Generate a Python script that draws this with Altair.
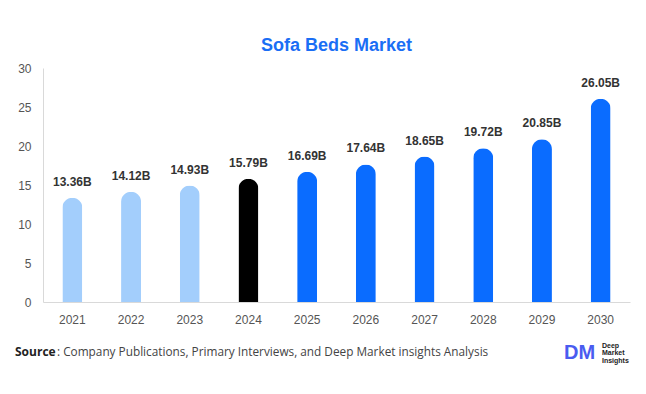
import altair as alt
import pandas as pd

years = ["2021", "2022", "2023", "2024", "2025", "2026", "2027", "2028", "2029", "2030"]
values = [13.36, 14.12, 14.93, 15.79, 16.69, 17.64, 18.65, 19.72, 20.85, 26.05]
kinds = ["past", "past", "past", "base", "fore", "fore", "fore", "fore", "fore", "fore"]
labels = [f"{v:.2f}B" for v in values]
y_ticks = [0, 5, 10, 15, 20, 25, 30]

df = pd.DataFrame({"year": years, "value": values, "kind": kinds, "label": labels})

W, H = 587, 234

x = alt.X("year:N", title=None, sort=years,
          scale=alt.Scale(paddingInner=0.66, paddingOuter=0.33),
          axis=alt.Axis(labelAngle=0, ticks=False, domainColor="#d9d9d9",
                        labelColor="#555555", labelFontSize=12, labelPadding=12,
                        labelFont="Arial"))
y = alt.Y("value:Q", title=None,
          scale=alt.Scale(domain=[0, 30]),
          axis=alt.Axis(values=y_ticks, grid=False, ticks=False,
                        labelOverlap=False,
                        domainColor="#d9d9d9", labelColor="#555555", labelFontSize=12,
                        labelPadding=12, labelFont="Arial"))

color = alt.Color("kind:N", legend=None,
                  scale=alt.Scale(domain=["past", "base", "fore"],
                                  range=["#a3cefc", "#000000", "#0a6cff"]))

bars = alt.Chart(df).mark_bar(size=20, cornerRadiusTopLeft=10, cornerRadiusTopRight=10).encode(
    x=x, y=y, color=color)

text = alt.Chart(df).mark_text(dy=-16, fontSize=12, fontWeight="bold", color="#333333",
                               font="Arial").encode(
    x=x, y=y, text="label:N")


def static_text(t, xv, yv, **kw):
    return alt.Chart(pd.DataFrame({"t": [t]})).mark_text(
        align="left", baseline="middle", **kw).encode(
        x=alt.value(xv), y=alt.value(yv), text="t:N")


src_bold = static_text("Source", -28, 284, fontSize=12, fontWeight="bold",
                       color="#222222", font="Open Sans")
src_rest = static_text(": Company Publications, Primary Interviews, and Deep Market insights Analysis",
                       14, 284, fontSize=11.8, color="#444444", font="Open Sans")
logo = static_text("DM", 521, 285, fontSize=20, fontWeight="bold", color="#4a5cf0", font="Arial")
logo_l1 = static_text("Deep", 559, 278, fontSize=7, fontWeight="bold", color="#222222", font="Arial")
logo_l2 = static_text("Market", 559, 285, fontSize=7, fontWeight="bold", color="#222222", font="Arial")
logo_l3 = static_text("Insights", 559, 293, fontSize=7, fontWeight="bold", color="#222222", font="Arial")

chart = alt.layer(bars, text, src_bold, src_rest, logo, logo_l1, logo_l2, logo_l3).properties(
    width=W, height=H,
    title=alt.TitleParams("Sofa Beds Market", fontSize=18, fontWeight="bold",
                          color="#1a6ef5", anchor="middle", offset=7, font="Arial"),
    autosize=alt.AutoSizeParams(type="none"),
    padding={"left": 35, "top": 60, "right": 8, "bottom": 80},
).configure_view(stroke=None)

chart.save("out.html", embed_options={"renderer": "svg", "actions": False})
